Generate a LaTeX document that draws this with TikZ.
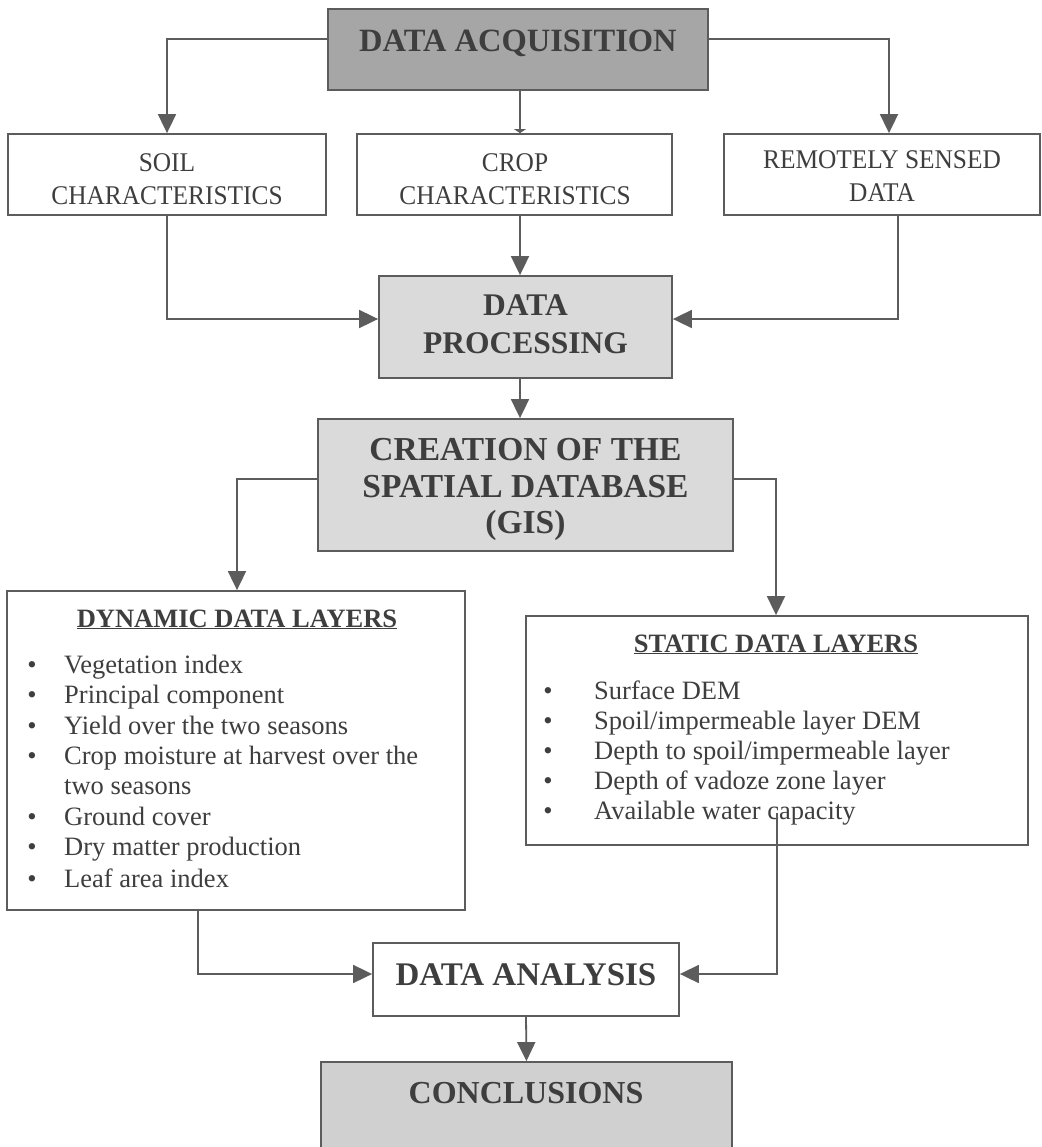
\documentclass[tikz,border=0pt]{standalone}
\usepackage{fontspec}
\setmainfont{Liberation Serif}
\newfontfamily\condserif[FakeStretch=0.94]{Liberation Serif}
\usetikzlibrary{arrows.meta}
\definecolor{ink}{HTML}{3E3E3E}
\definecolor{linec}{HTML}{5C5C5C}
\definecolor{darkfill}{HTML}{A6A6A6}
\definecolor{lightfill}{HTML}{DADADA}
\definecolor{concfill}{HTML}{D0D0D0}
\begin{document}
\begin{tikzpicture}[x=1pt,y=-1pt,
  box/.style={draw=linec, line width=1.8pt, inner sep=0pt, fill=white},
  head/.style={font=\fontsize{32.5}{37}\selectfont\bfseries, text=ink, anchor=base, inner sep=0pt},
  sm/.style={font=\condserif\fontsize{27}{31}\selectfont, text=ink, anchor=base, inner sep=0pt},
  ttl/.style={font=\fontsize{26.5}{30}\selectfont\bfseries, text=ink, anchor=base, inner sep=0pt},
  itm/.style={font=\fontsize{26.5}{30}\selectfont, text=ink, anchor=base west, inner sep=0pt},
  bul/.style={font=\fontsize{26.5}{30}\selectfont, text=ink, anchor=base, inner sep=0pt},
  conn/.style={draw=linec, line width=1.8pt},
  arr/.style={conn, -{Triangle[length=19pt,width=18pt]}},
]
\useasboundingbox (0,0) rectangle (1041,1147);
\fill[white] (0,0) rectangle (1041,1147);

% boxes
\node[box, fill=darkfill, minimum width=380pt, minimum height=81pt] (acq) at (518,49.5) {};
\node[box, minimum width=318pt, minimum height=81pt] (soil) at (167,174.5) {};
\node[box, minimum width=315pt, minimum height=81pt] (crop) at (514.5,174.5) {};
\node[box, minimum width=316pt, minimum height=81pt] (remote) at (882,174.5) {};
\node[box, fill=lightfill, minimum width=293pt, minimum height=102pt] (dp) at (525.5,327) {};
\node[box, fill=lightfill, minimum width=415pt, minimum height=132pt] (cre) at (525.5,485) {};
\node[box, minimum width=458pt, minimum height=319pt] (dyn) at (236,750.5) {};
\node[box, minimum width=502pt, minimum height=229pt] (sta) at (777,730.5) {};
\node[box, minimum width=306pt, minimum height=73pt] (ana) at (526,979.5) {};
\node[box, fill=concfill, minimum width=411pt, minimum height=103pt] (conc) at (526.5,1113.5) {};

% texts
\node[head] (tacq) at (518,52) {DATA ACQUISITION};
\node[sm] (tsoil1) at (167,172) {SOIL};
\node[sm] (tsoil2) at (167,205) {CHARACTERISTICS};
\node[sm] (tcrop1) at (515,172) {CROP};
\node[sm] (tcrop2) at (515,205) {CHARACTERISTICS};
\node[sm] (trem1) at (882,169) {REMOTELY SENSED};
\node[sm] (trem2) at (882,202) {DATA};
\node[head, font=\fontsize{31.5}{37}\selectfont\bfseries] (tdp1) at (525.5,315) {DATA};
\node[head, font=\fontsize{31.5}{37}\selectfont\bfseries] (tdp2) at (525.5,353) {PROCESSING};
\node[head, font=\fontsize{33.5}{37}\selectfont\bfseries] (tcre1) at (525.5,460) {CREATION OF THE};
\node[head, font=\fontsize{33.5}{37}\selectfont\bfseries] (tcre2) at (525.5,497) {SPATIAL DATABASE};
\node[head, font=\fontsize{33.5}{37}\selectfont\bfseries] (tcre3) at (525.5,533) {(GIS)};
\node[head, font=\fontsize{33}{37}\selectfont\bfseries] (tana) at (526,985) {DATA ANALYSIS};
\node[head, font=\fontsize{32}{37}\selectfont\bfseries] (tconc) at (526,1103) {CONCLUSIONS};

\node[ttl] (tdyn) at (237,627) {\underline{DYNAMIC DATA LAYERS}};
\foreach \yy/\t/\b [count=\i] in {673/Vegetation index/1, 703/Principal component/1, 734/Yield over the two seasons/1, 764/Crop moisture at harvest over the/1, 794/two seasons/0, 825/Ground cover/1, 855/Dry matter production/1, 887/Leaf area index/1}
{
  \node[itm] (dyn\i) at (64,\yy) {\t};
  \ifnum\b=1 \node[bul] (dynb\i) at (32,\yy) {\textbullet}; \fi
}

\node[ttl] (tsta) at (776,652) {\underline{STATIC DATA LAYERS}};
\foreach \yy/\t [count=\i] in {699/Surface DEM, 729/Spoil\slash impermeable layer DEM, 759/Depth to spoil\slash impermeable layer, 789/Depth of vadoze zone layer, 819/Available water capacity}
{
  \node[itm] (sta\i) at (594,\yy) {\t};
  \node[bul] (stab\i) at (548,\yy) {\textbullet};
}

% connectors
\draw[arr] (acq.west |- 0,39) -| (soil.north);
\draw[arr] (acq.east |- 0,39) -| (remote.north -| 889,0);
\draw[conn, -{Triangle[length=4pt,width=12pt]}] (acq.south -| 520,0) -- (crop.north -| 520,0);
\draw[arr] (soil.south) |- (dp.west |- 0,319);
\draw[arr] (crop.south -| 520,0) -- (dp.north -| 520,0);
\draw[arr] (remote.south -| 898,0) |- (dp.east |- 0,319);
\draw[arr] (dp.south -| 520,0) -- (cre.north -| 520,0);
\draw[arr] (cre.west |- 0,479) -| (dyn.north -| 237,0);
\draw[arr] (cre.east |- 0,479) -| (sta.north -| 776,0);
\draw[arr] (dyn.south -| 198,0) |- (ana.west |- 0,974);
\coordinate (stastart) at (777,813);
\draw[arr] (stastart) |- (ana.east |- 0,974);
\draw[arr] (ana.south) -- (conc.north);
\end{tikzpicture}
\end{document}
